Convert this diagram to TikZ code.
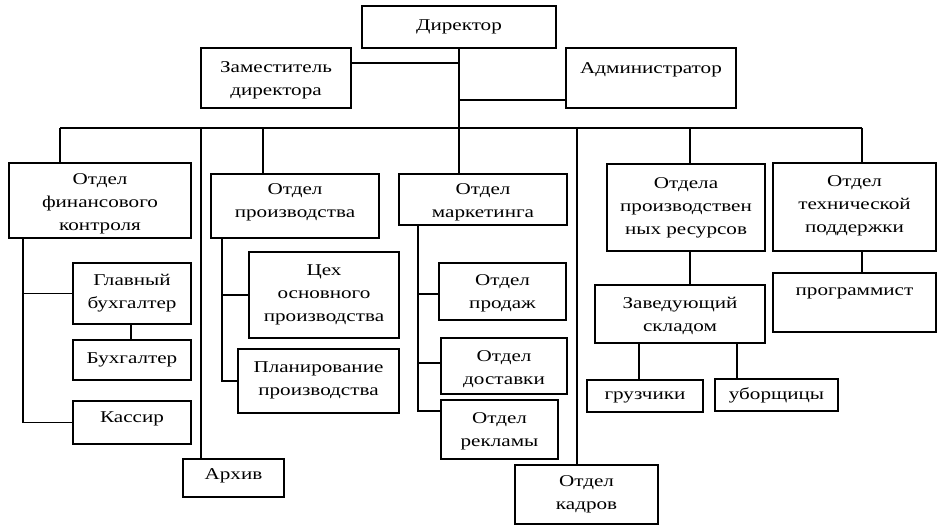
\documentclass[tikz,border=0pt]{standalone}
\usepackage{fontspec}
\setmainfont{Liberation Serif}[FakeStretch=1.28]
\usetikzlibrary{calc}
\tikzset{
  obox/.style={draw, line width=1.3pt, inner sep=0pt},
  olbl/.style={inner sep=0pt, align=center, font=\fontsize{16.5}{23}\selectfont},
  conn/.style={line width=1.3pt},
}
\newcommand\orgbox[7]{%
  \node[obox, minimum width={#4-#2}, minimum height={#5-#3}] (#1) at ({(#2+#4)/2},{(#3+#5)/2}) {};
  \node[olbl] (#1-t) at ($(#1.center)+(0,#6)$) {#7};
}
\begin{document}
\begin{tikzpicture}[x=1pt,y=-1pt]
\useasboundingbox (0,0) rectangle (942,532);
\fill[white] (0,0) rectangle (942,532);
% boxes
\orgbox{dir}{362}{6}{556}{48}{0}{Директор}
\orgbox{zam}{201}{48}{351}{108}{2}{Заместитель\\директора}
\orgbox{adm}{566}{48}{736}{108}{-8}{Администратор}
\orgbox{fin}{9}{163}{191}{238}{3}{Отдел\\финансового\\контроля}
\orgbox{glav}{73}{263}{191}{324}{0}{Главный\\бухгалтер}
\orgbox{buh}{73}{340}{191}{380}{0}{Бухгалтер}
\orgbox{kas}{73}{401}{191}{444}{-4}{Кассир}
\orgbox{arh}{183}{459}{284}{497}{-2}{Архив}
\orgbox{prod}{211}{174}{379}{238}{-4}{Отдел\\производства}
\orgbox{tseh}{249}{252}{399}{338}{0}{Цех\\основного\\производства}
\orgbox{plan}{238}{349}{399}{413}{-1}{Планирование\\производства}
\orgbox{mark}{399}{174}{567}{225}{3}{Отдел\\маркетинга}
\orgbox{sale}{439}{263}{566}{320}{2}{Отдел\\продаж}
\orgbox{dost}{441}{338}{567}{394}{3}{Отдел\\доставки}
\orgbox{rekl}{441}{400}{558}{459}{2}{Отдел\\рекламы}
\orgbox{kadr}{515}{465}{658}{524}{0}{Отдел\\кадров}
\orgbox{res}{607}{164}{765}{251}{0}{Отдела\\производствен\\ных ресурсов}
\orgbox{zav}{595}{285}{765}{343}{2}{Заведующий\\складом}
\orgbox{gruz}{587}{380}{703}{412}{1}{грузчики}
\orgbox{ubor}{715}{379}{838}{411}{0}{уборщицы}
\orgbox{tech}{773}{163}{936}{251}{-1}{Отдел\\технической\\поддержки}
\orgbox{prog}{773}{273}{936}{332}{-9}{программист}
% bus coordinates
\coordinate (bus) at (459,128);
\coordinate (hz) at (459,63);
\coordinate (ha) at (459,100);
\coordinate (b1) at (60,128);
\coordinate (b2) at (201,128);
\coordinate (b3) at (263,128);
\coordinate (b5) at (577,128);
\coordinate (b6) at (690,128);
\coordinate (b7) at (862,128);
% top connectors
\draw[conn] (dir.south) -- (bus);
\draw[conn] (zam.east |- hz) -- (hz);
\draw[conn] (adm.west |- ha) -- (ha);
\draw[conn] (b1) -- (b7);
\draw[conn] (b1) -- (b1 |- fin.north);
\draw[conn] (b2) -- (b2 |- arh.north);
\draw[conn] (b3) -- (b3 |- prod.north);
\draw[conn] (bus) -- (bus |- mark.north);
\draw[conn] (b5) -- (b5 |- kadr.north);
\draw[conn] (b6) -- (b6 |- res.north);
\draw[conn] (b7) -- (b7 |- tech.north);
% finance
\coordinate (fs) at (23,238);
\draw[conn] (fs) |- (kas.west);
\draw[conn] (fs |- glav.west) -- (glav.west);
\coordinate (gb) at (131,324);
\draw[conn] (gb) -- (gb |- buh.north);
% production
\coordinate (ps) at (222,238);
\draw[conn] (ps) |- (plan.west);
\draw[conn] (ps |- tseh.west) -- (tseh.west);
% marketing
\coordinate (ms) at (418,225);
\coordinate (mr) at (418,411);
\draw[conn] (ms) -- (mr) -- (mr -| rekl.west);
\draw[conn] (ms |- 0,294) -- (sale.west |- 0,294);
\draw[conn] (ms |- 0,363) -- (dost.west |- 0,363);
% resources
\draw[conn] (b6 |- res.south) -- (b6 |- zav.north);
\coordinate (zg) at (639,343);
\coordinate (zu) at (737,343);
\draw[conn] (zg) -- (zg |- gruz.north);
\draw[conn] (zu) -- (zu |- ubor.north);
% tech
\draw[conn] (b7 |- tech.south) -- (b7 |- prog.north);
\end{tikzpicture}
\end{document}
